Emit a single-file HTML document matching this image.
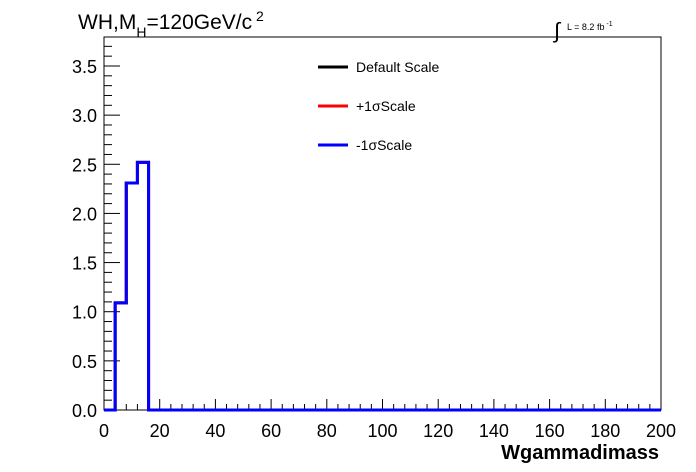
<!DOCTYPE html>
<html><head><meta charset="utf-8"><style>
body{margin:0;background:#fff}
svg{display:block;font-family:"Liberation Sans",sans-serif}
</style></head><body>
<svg id="c" width="696" height="472">
<rect x="0" y="0" width="696" height="472" fill="#fff"/>
<g id="ticks"></g>
<rect x="104" y="37" width="557" height="373" fill="none" stroke="#000" stroke-width="1"/>
<g id="hists"></g>
<text x="78" y="29" font-size="21">WH,M<tspan font-size="14" dy="8">H</tspan><tspan dy="-8">=120GeV/c</tspan><tspan font-size="14" dy="-8"> 2</tspan></text>
<text x="554" y="38" font-size="22">∫</text>
<text x="567" y="30" font-size="9">L = 8.2 fb<tspan font-size="7" dy="-4"> -1</tspan></text>
<text x="659" y="459" font-size="20" font-weight="bold" text-anchor="end">Wgammadimass</text>
<g>
<line x1="318" y1="67" x2="348" y2="67" stroke="#000" stroke-width="3"/>
<text x="356" y="72" font-size="14">Default Scale</text>
<line x1="318" y1="106" x2="348" y2="106" stroke="#f00" stroke-width="3"/>
<text x="356" y="111" font-size="14">+1σScale</text>
<line x1="318" y1="145" x2="348" y2="145" stroke="#00f" stroke-width="3"/>
<text x="356" y="150" font-size="14">-1σScale</text>
</g>
</svg>
<script>
const binEdgesStart = 0;
const binWidth = 4;
const defaultValues = [0,1.09,2.31,2.52,0,0,0,0,0,0,0,0,0,0,0,0,0,0,0,0,0,0,0,0,0,0,0,0,0,0,0,0,0,0,0,0,0,0,0,0,0,0,0,0,0,0,0,0,0,0];
const plusValues = [0,1.09,2.31,2.52,0,0,0,0,0,0,0,0,0,0,0,0,0,0,0,0,0,0,0,0,0,0,0,0,0,0,0,0,0,0,0,0,0,0,0,0,0,0,0,0,0,0,0,0,0,0];
const minusValues = [0,1.09,2.31,2.52,0,0,0,0,0,0,0,0,0,0,0,0,0,0,0,0,0,0,0,0,0,0,0,0,0,0,0,0,0,0,0,0,0,0,0,0,0,0,0,0,0,0,0,0,0,0];
const xTickLabels = ["0","20","40","60","80","100","120","140","160","180","200"];
const yTickLabels = ["0.0","0.5","1.0","1.5","2.0","2.5","3.0","3.5"];
const X0=104,X1=661,Y0=410,Y1=37,xMax=200,yMax=3.795;
const sx=v=>X0+(v/xMax)*(X1-X0);
const sy=v=>Y0-(v/yMax)*(Y0-Y1);
const NS="http://www.w3.org/2000/svg";
const tg=document.getElementById('ticks');
function mk(t,a,p){const e=document.createElementNS(NS,t);for(const k in a)e.setAttribute(k,a[k]);p.appendChild(e);return e;}
for(let v=0;v<=xMax+1e-9;v+=4){const major=v%20===0;const l=mk('line',{x1:sx(v),x2:sx(v),y1:Y0,y2:Y0-(major?11:6),stroke:'#000'},tg);

}
xTickLabels.forEach(s=>{const t=mk('text',{x:sx(+s),y:437,'font-size':18,'text-anchor':'middle'},tg);t.textContent=s;

});
for(let i=0;i*0.1<=3.79;i++){const v=i*0.1;const major=i%5===0;const l=mk('line',{x1:X0,x2:X0+(major?16:8),y1:sy(v),y2:sy(v),stroke:'#000'},tg);

}
yTickLabels.forEach(s=>{const t=mk('text',{x:97,y:sy(+s)+7,'font-size':18,'text-anchor':'end'},tg);t.textContent=s;

});
const hg=document.getElementById('hists');
function hist(vals,color,name){let d='M'+sx(binEdgesStart)+','+sy(0);
vals.forEach((v,i)=>{const a=binEdgesStart+i*binWidth;d+=' L'+sx(a)+','+sy(v)+' L'+sx(a+binWidth)+','+sy(v);});
const p=mk('path',{d:d,fill:'none',stroke:color,'stroke-width':3},hg);

}
hist(defaultValues,'#000','series-default-scale');
hist(plusValues,'#f00','series-plus-1sigma');
hist(minusValues,'#00f','series-minus-1sigma');
</script>
</body></html>
